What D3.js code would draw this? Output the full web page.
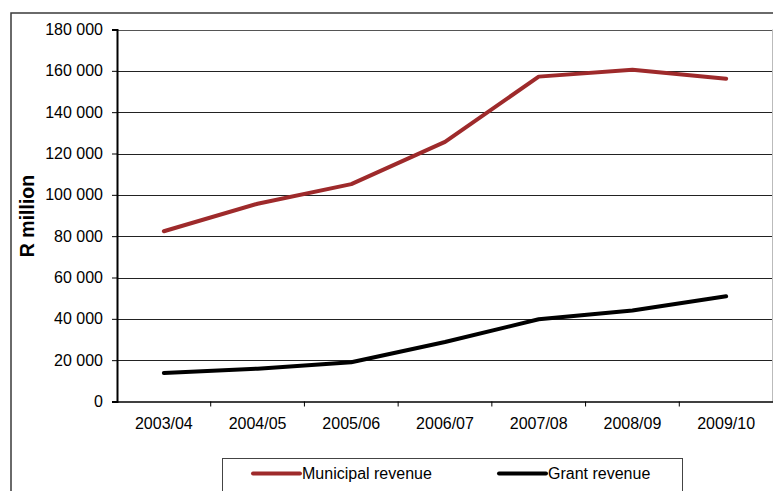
<!DOCTYPE html>
<html>
<head>
<meta charset="utf-8">
<script src="https://cdn.jsdelivr.net/npm/d3@7"></script>
<style>
  html, body { margin: 0; padding: 0; background: #fff; }
  svg { display: block; font-family: "Liberation Sans", Arial, sans-serif; }
</style>
</head>
<body>
<svg id="chart" width="773" height="491"></svg>
<script>
// Municipal and grant revenue, R million
const years = ["2003/04", "2004/05", "2005/06", "2006/07", "2007/08", "2008/09", "2009/10"];
const municipalRevenue = [82400, 95700, 105200, 125600, 157200, 160500, 156200];
const grantRevenue = [13800, 15900, 19000, 28800, 39800, 44000, 50900];
const yTicks = [0, 20000, 40000, 60000, 80000, 100000, 120000, 140000, 160000, 180000];
const seriesNames = ["Municipal revenue", "Grant revenue"];
const seriesColors = ["#9e2a2b", "#000000"];

const svg = d3.select("#chart");
const plot = { left: 117, right: 773, top: 29.5, bottom: 401.5 };
const FONT = "'Liberation Sans', Arial, sans-serif";

// outer frame
svg.append("rect")
  .attr("x", 11).attr("y", 13)
  .attr("width", 800).attr("height", 520)
  .attr("fill", "none").attr("stroke", "#3a3a3a").attr("stroke-width", 1.5);

const x = d3.scaleBand().domain(years).range([plot.left, plot.right]);
const y = d3.scaleLinear().domain([0, 180000]).range([plot.bottom, plot.top]);

const fmt = v => d3.format(",")(v).replace(/,/g, " ");

// gridlines
svg.append("g").selectAll("line")
  .data(yTicks.filter(t => t > 0))
  .join("line")
  .attr("x1", plot.left).attr("x2", plot.right - 1)
  .attr("y1", d => Math.round(y(d)) + 0.5).attr("y2", d => Math.round(y(d)) + 0.5)
  .attr("stroke", d => d === 180000 ? "#555" : "#222").attr("stroke-width", 1);

// right edge of plot area
svg.append("line")
  .attr("x1", plot.right - 0.5).attr("x2", plot.right - 0.5)
  .attr("y1", plot.top).attr("y2", plot.bottom)
  .attr("stroke", "#bbb").attr("stroke-width", 1);

// y axis
const yAxis = svg.append("g")
  .attr("transform", `translate(${plot.left},0)`)
  .call(d3.axisLeft(y).tickValues(yTicks).tickFormat(fmt).tickSize(5).tickPadding(9));
yAxis.attr("font-size", 16).attr("font-family", FONT);
yAxis.select(".domain").attr("stroke", "#000").attr("stroke-width", 2);
yAxis.selectAll(".tick line").attr("stroke", "#000");
yAxis.selectAll(".tick text").attr("fill", "#000");

// x axis with ticks between categories
const xAxis = svg.append("g")
  .attr("transform", `translate(0,${plot.bottom})`)
  .call(d3.axisBottom(x).tickSize(0).tickPadding(16));
xAxis.attr("font-size", 16).attr("font-family", FONT);
xAxis.select(".domain").attr("stroke", "#000").attr("stroke-width", 1.6);
xAxis.selectAll(".tick text").attr("fill", "#000");
svg.append("g").selectAll("line")
  .data(years.slice(1))
  .join("line")
  .attr("x1", d => x(d)).attr("x2", d => x(d))
  .attr("y1", plot.bottom).attr("y2", plot.bottom + 5)
  .attr("stroke", "#000");

// y axis title
svg.append("text")
  .attr("transform", "translate(34,216) rotate(-90)")
  .attr("text-anchor", "middle")
  .attr("font-size", 19.5).attr("font-weight", "bold")
  .text("R million");

// lines
const line = d3.line()
  .x((d, i) => x(years[i]) + x.bandwidth() / 2)
  .y(d => y(d));

[municipalRevenue, grantRevenue].forEach((series, k) => {
  svg.append("path")
    .datum(series)
    .attr("d", line)
    .attr("fill", "none")
    .attr("stroke", seriesColors[k])
    .attr("stroke-width", 4)
    .attr("stroke-linecap", "round")
    .attr("stroke-linejoin", "round");
});

// legend
const legend = svg.append("g");
legend.append("rect")
  .attr("x", 222.5).attr("y", 458.5)
  .attr("width", 460).attr("height", 60)
  .attr("fill", "#fff").attr("stroke", "#444").attr("stroke-width", 1);
const legendX = [253, 499];
seriesNames.forEach((name, k) => {
  legend.append("line")
    .attr("x1", legendX[k]).attr("x2", legendX[k] + 47)
    .attr("y1", 473.5).attr("y2", 473.5)
    .attr("stroke", seriesColors[k]).attr("stroke-width", 4)
    .attr("stroke-linecap", "round");
  legend.append("text")
    .attr("x", legendX[k] + 49).attr("y", 479)
    .attr("font-size", 16)
    .text(name);
});
</script>
</body>
</html>
